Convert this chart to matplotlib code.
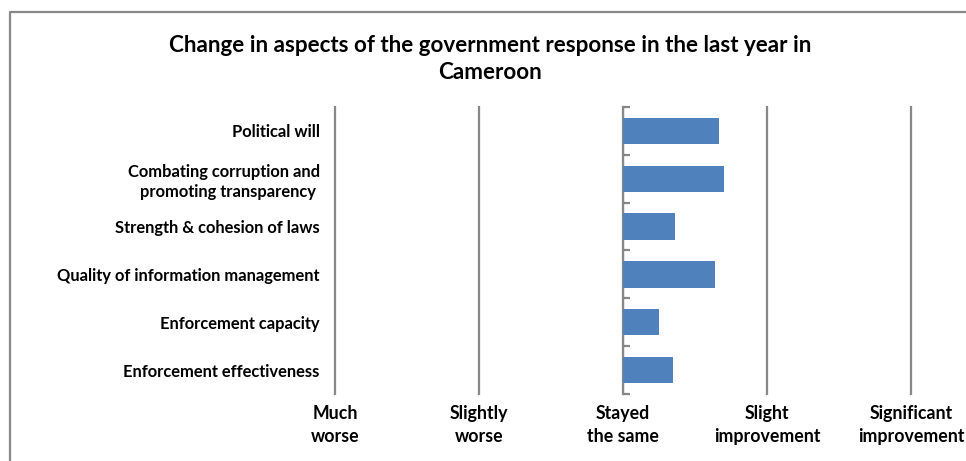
import matplotlib
matplotlib.use("Agg")
from matplotlib import pyplot as plt
from matplotlib.lines import Line2D

# survey scale: 0 = stayed the same, -2 .. 2
aspects = [
    "Political will",
    "Combating corruption and\npromoting transparency ",
    "Strength & cohesion of laws",
    "Quality of information management",
    "Enforcement capacity",
    "Enforcement effectiveness",
]
change = [0.67, 0.70, 0.36, 0.64, 0.25, 0.35]
scale_ticks = [-2, -1, 0, 1, 2]
scale_labels = ["Much\nworse", "Slightly\nworse", "Stayed\nthe same",
                "Slight\nimprovement", "Significant\nimprovement"]

plt.rcParams["font.family"] = ["Lato", "DejaVu Sans"]
plt.rcParams["font.weight"] = "bold"

grey = "#888888"
fig = plt.figure(figsize=(9.66, 4.61), dpi=100)
ax = fig.add_axes([335 / 966, 1 - 394 / 461, 576 / 966, 287 / 461])

pos = list(range(len(aspects)))[::-1]
ax.barh(pos, change, height=0.55, color="#4F81BD", zorder=3)

ax.set_xlim(-2, 2)
ax.set_ylim(-0.5, len(aspects) - 0.5)
ax.set_xticks(scale_ticks)
ax.set_xticklabels(scale_labels, fontsize=12.8, fontweight="bold", linespacing=1.4)
ax.tick_params(axis="x", length=0, pad=8)
ax.grid(axis="x", color=grey, linewidth=1.6, zorder=1)
for gl in ax.get_xgridlines():
    gl.set_clip_on(False)

ax.set_yticks(pos)
ax.set_yticklabels(aspects, fontsize=11.9, fontweight="bold", linespacing=1.3)
ax.tick_params(axis="y", length=0, pad=11)
for s in ax.spines.values():
    s.set_visible(False)

# category axis crossing at "stayed the same"
mid = ax.secondary_yaxis(0.5)
mid.set_yticks([p - 0.5 for p in range(len(aspects) + 1)])
mid.set_yticklabels([])
mid.tick_params(axis="y", length=5, width=1.6, color=grey)
mid.spines["left"].set_color(grey)
mid.spines["left"].set_linewidth(1.6)

fig.text(490 / 966, 1 - 59 / 461,
         "Change in aspects of the government response in the last year in\nCameroon",
         ha="center", va="center", fontsize=16.1, fontweight="bold", linespacing=1.4)

# chart border
fig.add_artist(Line2D([9.5 / 966, 9.5 / 966, 1], [0, 1 - 12.5 / 461, 1 - 12.5 / 461],
                      color=grey, linewidth=1.6, transform=fig.transFigure))

fig.savefig("out.png", dpi=100)
